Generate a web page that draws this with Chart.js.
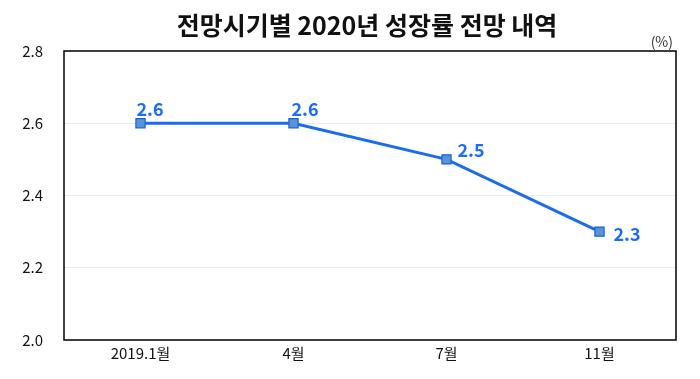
<!DOCTYPE html>
<html><head><meta charset="utf-8">
<script src="https://cdn.jsdelivr.net/npm/chart.js@4"></script>
<style>html,body{margin:0;padding:0;background:#fff}#wrap{width:700px;height:379px}</style>
</head><body><div id="wrap"><canvas id="c" width="700" height="379"></canvas></div>
<script>
const categories = ['2019.1월', '4월', '7월', '11월'];
const growthForecast = [2.6, 2.6, 2.5, 2.3];
const yTicks = [2.0, 2.2, 2.4, 2.6, 2.8];
const titleText = '전망시기별 2020년 성장률 전망 내역';
const unitText = '(%)';

const FONT = '"Noto Sans CJK KR", "Noto Sans", sans-serif';
const labelPlacement = [
  {dx: -4, dy: -14, align: 'left'},
  {dx: -2, dy: -14, align: 'left'},
  {dx: 11, dy: -9, align: 'left'},
  {dx: 14, dy: 3, align: 'left'}
];

const decor = {
  id: 'decor',
  afterDraw(chart) {
    const ctx = chart.ctx, a = chart.chartArea;
    ctx.save();
    ctx.strokeStyle = '#000';
    ctx.lineWidth = 1.5;
    ctx.strokeRect(a.left, a.top, a.right - a.left, a.bottom - a.top);
    ctx.fillStyle = '#111';
    ctx.font = 'bold 25px ' + FONT;
    ctx.textAlign = 'center';
    ctx.textBaseline = 'middle';
    ctx.fillText(titleText, 367, 25);
    ctx.font = '14px ' + FONT;
    ctx.fillStyle = '#333';
    ctx.textAlign = 'right';
    ctx.fillText(unitText, a.right - 3, 42);
    const meta = chart.getDatasetMeta(0);
    ctx.font = 'bold 18px ' + FONT;
    ctx.fillStyle = '#1a6cff';
    meta.data.forEach((pt, i) => {
      const p = labelPlacement[i];
      ctx.textAlign = p.align;
      ctx.fillText(chart.data.datasets[0].data[i].toFixed(1), pt.x + p.dx, pt.y + p.dy);
    });
    ctx.restore();
  }
};

new Chart(document.getElementById('c'), {
  type: 'line',
  data: {
    labels: categories,
    datasets: [{
      data: growthForecast,
      borderColor: '#1a6cf0',
      borderWidth: 3,
      pointStyle: 'rect',
      pointRadius: 6.5,
      pointBackgroundColor: '#5a94d8',
      pointBorderColor: '#1a5fd8',
      pointBorderWidth: 1.2,
      tension: 0
    }]
  },
  options: {
    responsive: false,
    animation: false,
    events: [],
    layout: {padding: {left: 0, right: 24, top: 51, bottom: 0}},
    plugins: {legend: {display: false}, tooltip: {enabled: false}, title: {display: false}},
    scales: {
      x: {
        offset: true,
        grid: {display: false, drawTicks: false},
        border: {display: false},
        ticks: {padding: 4, color: '#111', font: {family: FONT, size: 15}},
        afterFit(s) { s.height = 39; }
      },
      y: {
        min: 2.0, max: 2.8,
        afterBuildTicks(s) { s.ticks = yTicks.map(v => ({value: v})); },
        grid: {color: '#eeeeee', drawTicks: false, lineWidth: 1},
        border: {display: false},
        ticks: {padding: 21, color: '#111', font: {family: FONT, size: 15},
          callback: v => Number(v).toFixed(1)},
        afterFit(s) { s.width = 64; }
      }
    }
  },
  plugins: [decor]
});
</script></body></html>
